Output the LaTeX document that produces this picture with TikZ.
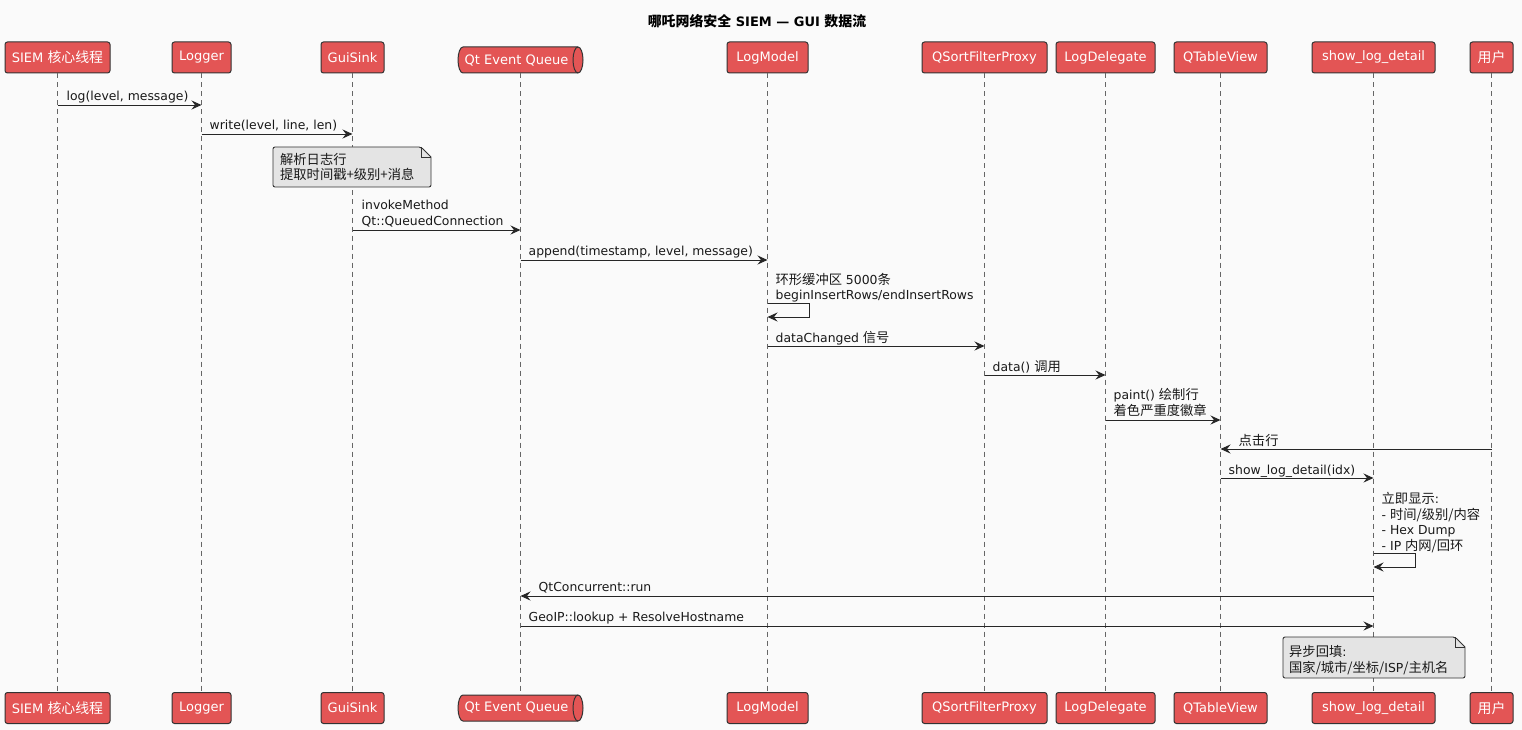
\documentclass[tikz,border=0pt]{standalone}
\usepackage{fontspec}
\setmainfont{DejaVu Sans}
\newfontfamily\cjk{Noto Sans CJK SC}[Scale=1.07]
\usetikzlibrary{arrows.meta,calc}
\definecolor{bg}{HTML}{FAFAFA}
\definecolor{boxred}{HTML}{E35555}
\definecolor{edge}{HTML}{333333}
\definecolor{notefill}{HTML}{E4E4E4}
\definecolor{lline}{HTML}{666666}
\newcommand{\zh}[1]{{\cjk #1}}
\begin{document}
\begin{tikzpicture}[x=1pt,y=-1pt,
  every node/.style={font=\fontsize{12.4}{15.5}\selectfont},
  part/.style={draw=edge, line width=1pt, fill=boxred, rounded corners=2.5pt,
    text=white, minimum height=31pt, inner sep=0pt, font=\fontsize{13}{15}\selectfont},
  qtxt/.style={text=white, minimum height=27pt, inner sep=0pt, font=\fontsize{13}{15}\selectfont},
  qshape/.style={draw=edge, line width=1pt, fill=boxred},
  lifeline/.style={draw=lline, line width=0.7pt, dash pattern=on 5pt off 4pt},
  msg/.style={draw=black!85, line width=0.9pt, -{Stealth[length=10pt,width=9pt,inset=3.5pt]}},
  lbl/.style={anchor=base west, inner sep=0pt, align=left, text=black!90},
  notebox/.style={draw=edge, line width=0.9pt, fill=notefill, rounded corners=2pt},
  ttl/.style={font=\fontsize{13}{16}\selectfont\bfseries, inner sep=0pt, anchor=base}
]
% background
\fill[bg] (0,0) rectangle (1522,730);
\useasboundingbox (0,0) rectangle (1522,730);

% title
\node[ttl] (title) at (757,27) {\zh{哪吒网络安全} SIEM — GUI \zh{数据流}};

% queue shapes
\draw[qshape] (463,47) -- (578,47) arc[start angle=90,end angle=-90,x radius=5pt,y radius=13pt]
  -- (463,73) arc[start angle=270,end angle=90,x radius=5pt,y radius=13pt] -- cycle;
\draw[qshape, fill=none] (578,47) arc[start angle=90,end angle=270,x radius=5pt,y radius=13pt];
\draw[qshape] (463,695) -- (578,695) arc[start angle=90,end angle=-90,x radius=5pt,y radius=13pt]
  -- (463,721) arc[start angle=270,end angle=90,x radius=5pt,y radius=13pt] -- cycle;
\draw[qshape, fill=none] (578,695) arc[start angle=90,end angle=270,x radius=5pt,y radius=13pt];

% participants top
\node[part, minimum width=105pt] (p1t) at (57.5,57.5) {SIEM \zh{核心线程}};
\node[part, minimum width=59pt] (p2t) at (201.5,57.5) {Logger};
\node[part, minimum width=63pt] (p3t) at (352.5,57.5) {GuiSink};
\node[qtxt, minimum width=125pt] (p4t) at (516.5,60.5) {Qt Event Queue};
\node[part, minimum width=81pt] (p5t) at (767.5,57.5) {LogModel};
\node[part, minimum width=125pt] (p6t) at (984.5,57.5) {QSortFilterProxy};
\node[part, minimum width=99pt] (p7t) at (1105.5,57.5) {LogDelegate};
\node[part, minimum width=93pt] (p8t) at (1220.5,57.5) {QTableView};
\node[part, minimum width=123pt] (p9t) at (1373.5,57.5) {show\_log\_detail};
\node[part, minimum width=43pt] (p10t) at (1491.5,57.5) {\zh{用户}};

% participants bottom
\node[part, minimum width=105pt] (p1b) at (57.5,708) {SIEM \zh{核心线程}};
\node[part, minimum width=59pt] (p2b) at (201.5,708) {Logger};
\node[part, minimum width=63pt] (p3b) at (352.5,708) {GuiSink};
\node[qtxt, minimum width=125pt] (p4b) at (516.5,708) {Qt Event Queue};
\node[part, minimum width=81pt] (p5b) at (767.5,708) {LogModel};
\node[part, minimum width=125pt] (p6b) at (984.5,708) {QSortFilterProxy};
\node[part, minimum width=99pt] (p7b) at (1105.5,708) {LogDelegate};
\node[part, minimum width=93pt] (p8b) at (1220.5,708) {QTableView};
\node[part, minimum width=123pt] (p9b) at (1373.5,708) {show\_log\_detail};
\node[part, minimum width=43pt] (p10b) at (1491.5,708) {\zh{用户}};

% lifelines
\coordinate (q4t) at (520.5,73.5);
\coordinate (q4b) at (520.5,694.5);
\draw[lifeline] (p1t.south) -- (p1b.north);
\draw[lifeline] (p2t.south) -- (p2b.north);
\draw[lifeline] (p3t.south) -- (p3b.north);
\draw[lifeline] (q4t) -- (q4b);
\draw[lifeline] (p5t.south) -- (p5b.north);
\draw[lifeline] (p6t.south) -- (p6b.north);
\draw[lifeline] (p7t.south) -- (p7b.north);
\draw[lifeline] (p8t.south) -- (p8b.north);
\draw[lifeline] (p9t.south) -- (p9b.north);
\draw[lifeline] (p10t.south) -- (p10b.north);

% messages
\draw[msg] (p1t |- 0,105) -- (p2t |- 0,105);
\node[lbl] (m1) at ($(p1t |- 0,101)+(9,0)$) {log(level, message)};

\draw[msg] (p2t |- 0,134) -- (p3t |- 0,134);
\node[lbl] (m2) at ($(p2t |- 0,130)+(8,0)$) {write(level, line, len)};

% note 1
\coordinate (n1a) at (273,147);
\coordinate (n1b) at (431,187);
\draw[notebox] (n1a) -- (421,147) [sharp corners] -- (431,157) [rounded corners=2pt] -- (n1b) -- (273,187) -- cycle;
\draw[edge, line width=0.9pt] (421,147) -- (421,157) -- (431,157);
\node[lbl] (n1) at (280,180) {\zh{解析日志行}\\\zh{提取时间戳+级别+消息}};

\draw[msg] (p3t |- 0,230) -- (q4t |- 0,230);
\node[lbl] (m3) at ($(p3t |- 0,225)+(9,0)$) {invokeMethod\\Qt::QueuedConnection};

\draw[msg] (q4t |- 0,260) -- (p5t |- 0,260);
\node[lbl] (m4) at ($(q4t |- 0,255)+(8,0)$) {append(timestamp, level, message)};

\node[lbl] (m5) at ($(p5t |- 0,299.5)+(8,0)$) {\zh{环形缓冲区} 5000\zh{条}\\beginInsertRows/endInsertRows};
\draw[msg] (p5t |- 0,303) -- ++(42,0) -- ++(0,14) -- (p5t |- 0,317);

\draw[msg] (p5t |- 0,346) -- (p6t |- 0,346);
\node[lbl] (m6) at ($(p5t |- 0,342)+(8,0)$) {dataChanged \zh{信号}};

\draw[msg] (p6t |- 0,375) -- (p7t |- 0,375);
\node[lbl] (m7) at ($(p6t |- 0,371)+(8,0)$) {data() \zh{调用}};

\draw[msg] (p7t |- 0,420) -- (p8t |- 0,420);
\node[lbl] (m8) at ($(p7t |- 0,415)+(8,0)$) {paint() \zh{绘制行}\\\zh{着色严重度徽章}};

\draw[msg] (p10t |- 0,449) -- (p8t |- 0,449);
\node[lbl] (m9) at ($(p8t |- 0,445)+(18,0)$) {\zh{点击行}};

\draw[msg] (p8t |- 0,478) -- (p9t |- 0,478);
\node[lbl] (m10) at ($(p8t |- 0,474)+(8,0)$) {show\_log\_detail(idx)};

\node[lbl] (m11) at ($(p9t |- 0,550)+(8,0)$) {\zh{立即显示}:\\- \zh{时间/级别/内容}\\- Hex Dump\\- IP \zh{内网/回环}};
\draw[msg] (p9t |- 0,553) -- ++(42,0) -- ++(0,14) -- (p9t |- 0,567);

\draw[msg] (p9t |- 0,596) -- (q4t |- 0,596);
\node[lbl] (m12) at ($(q4t |- 0,591)+(18,0)$) {QtConcurrent::run};

\draw[msg] (q4t |- 0,626) -- (p9t |- 0,626);
\node[lbl] (m13) at ($(q4t |- 0,621)+(8,0)$) {GeoIP::lookup + ResolveHostname};

% note 2
\coordinate (n2a) at (1283,637);
\coordinate (n2b) at (1465,678);
\draw[notebox] (n2a) -- (1455,637) [sharp corners] -- (1465,647) [rounded corners=2pt] -- (n2b) -- (1283,678) -- cycle;
\draw[edge, line width=0.9pt] (1455,637) -- (1455,647) -- (1465,647);
\node[lbl] (n2) at (1289,672) {\zh{异步回填}:\\\zh{国家/城市/坐标/}ISP\zh{/主机名}};
\end{tikzpicture}
\end{document}
